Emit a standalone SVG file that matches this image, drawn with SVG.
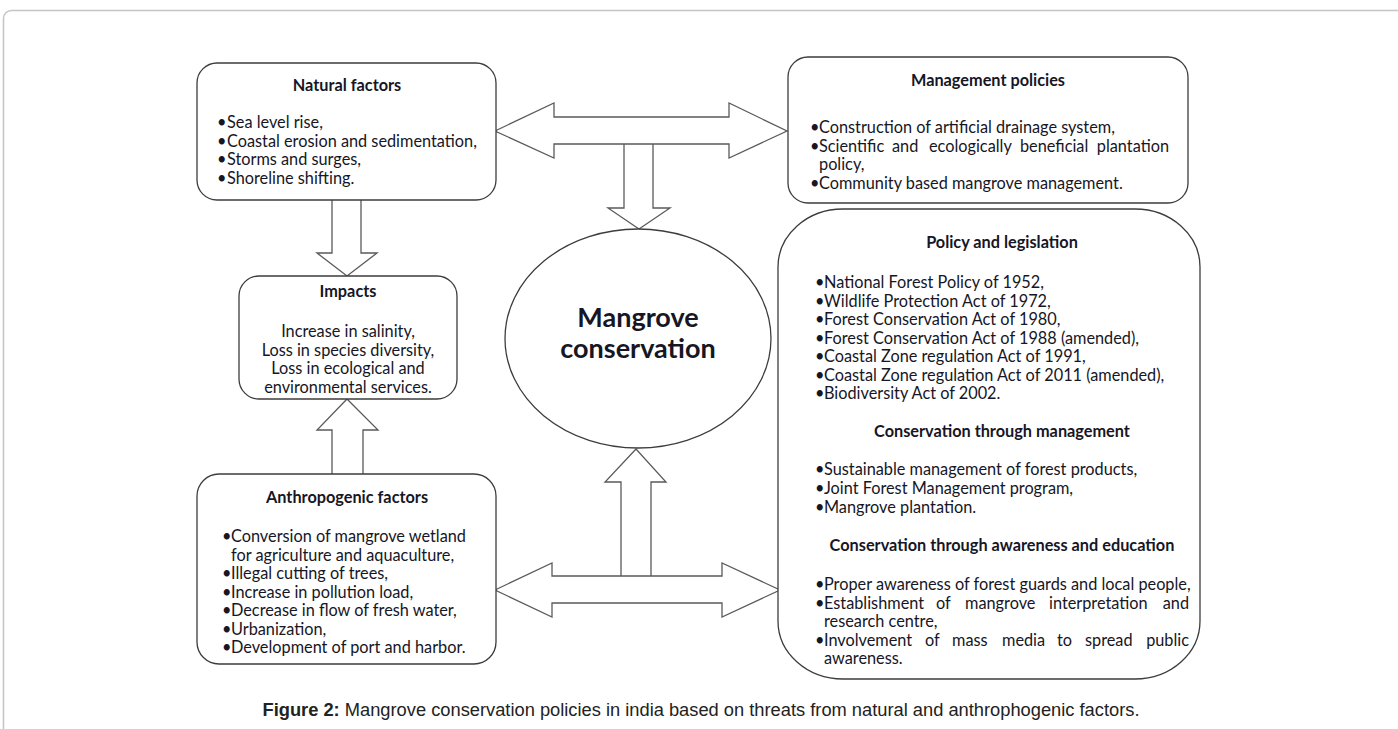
<svg xmlns="http://www.w3.org/2000/svg" width="1398" height="729" viewBox="0 0 1398 729">
<style>
.frame{fill:none;stroke:#c4c4c4;stroke-width:1.5}
.box{fill:#fff;stroke:#3c3c3c;stroke-width:1.3}
.arr{fill:#fff;stroke:#5a5a5a;stroke-width:1.3;stroke-linejoin:miter}
.t{font-family:Lato,"Open Sans","Liberation Sans",sans-serif;font-size:16.3px;fill:#161625}
.h{font-weight:bold;text-anchor:middle}
.c{text-anchor:middle}
.e{text-anchor:end}
.big{font-family:Lato,"Open Sans","Liberation Sans",sans-serif;font-size:27px;font-weight:bold;fill:#161625;text-anchor:middle}
.cap{font-family:"Liberation Sans",Arial,sans-serif;font-size:18.3px;fill:#222;text-anchor:middle}
</style>
<rect x="3.5" y="10.5" width="1500" height="800" rx="8" class="frame"/>
<g id="connectors">
  <path class="arr" d="M624,144 V208 H608 L639,229 L670,208 H653 V144"/>
  <polygon class="arr" points="495,131 554,103 554,117 729,117 729,103 787,131 729,158 729,144 554,144 554,158"/>
  <path class="arr" d="M621,576 V482 H605 L636,449 L666,482 H651 V576"/>
  <polygon class="arr" points="495,590 552,563 552,576 722,576 722,563 780,590 722,617 722,603 552,603 552,617"/>
  <path class="arr" d="M332,200 V253 H317 L347,276 L377,253 H361 V200"/>
  <path class="arr" d="M332,474 V430 H317 L347,399 L378,430 H363 V474"/>
</g>
<g id="natural">
  <rect class="box" x="197" y="63" width="299" height="137" rx="20"/>
  <text class="t h" x="347" y="91">Natural factors</text>
  <text class="t" x="217" y="128">•</text><text class="t" x="227" y="128">Sea level rise,</text>
  <text class="t" x="217" y="146.5">•</text><text class="t" x="227" y="146.5">Coastal erosion and sedimentation,</text>
  <text class="t" x="217" y="165">•</text><text class="t" x="227" y="165">Storms and surges,</text>
  <text class="t" x="217" y="183.5">•</text><text class="t" x="227" y="183.5">Shoreline shifting.</text>
</g>
<g id="management">
  <rect class="box" x="788" y="57" width="400" height="146" rx="20"/>
  <text class="t h" x="988" y="86">Management policies</text>
  <text class="t" x="810" y="133">•</text><text class="t" x="819" y="133">Construction of artificial drainage system,</text>
  <text class="t" x="810" y="152">•</text><text class="t" y="152"><tspan x="819">Scientific</tspan> <tspan x="892">and</tspan> <tspan x="929">ecologically</tspan> <tspan x="1020">beneficial</tspan></text><text class="t e" x="1169" y="152">plantation</text>
  <text class="t" x="819" y="170">policy,</text>
  <text class="t" x="810" y="188.5">•</text><text class="t" x="819" y="188.5">Community based mangrove management.</text>
</g>
<g id="impacts">
  <rect class="box" x="239" y="276" width="218" height="123" rx="20"/>
  <text class="t h" x="348" y="297">Impacts</text>
  <text class="t c" x="348" y="337">Increase in salinity,</text>
  <text class="t c" x="348" y="355.5">Loss in species diversity,</text>
  <text class="t c" x="348" y="374">Loss in ecological and</text>
  <text class="t c" x="348" y="392.5">environmental services.</text>
</g>
<g id="anthropogenic">
  <rect class="box" x="197" y="474" width="299" height="190" rx="22"/>
  <text class="t h" x="347" y="503">Anthropogenic factors</text>
  <text class="t" x="222" y="542">•</text><text class="t" x="231" y="542">Conversion of mangrove wetland</text>
  <text class="t" x="231" y="560.5">for agriculture and aquaculture,</text>
  <text class="t" x="222" y="579">•</text><text class="t" x="231" y="579">Illegal cutting of trees,</text>
  <text class="t" x="222" y="597.5">•</text><text class="t" x="231" y="597.5">Increase in pollution load,</text>
  <text class="t" x="222" y="616">•</text><text class="t" x="231" y="616">Decrease in flow of fresh water,</text>
  <text class="t" x="222" y="634.5">•</text><text class="t" x="231" y="634.5">Urbanization,</text>
  <text class="t" x="222" y="653">•</text><text class="t" x="231" y="653">Development of port and harbor.</text>
</g>
<g id="mangrove">
  <ellipse class="box" cx="638" cy="338.5" rx="133" ry="109.5"/>
  <text class="big" x="638" y="327">Mangrove</text>
  <text class="big" x="638" y="358">conservation</text>
</g>
<g id="policy">
  <rect class="box" x="778" y="209" width="422" height="470" rx="65" ry="58"/>
  <text class="t h" x="1002" y="248">Policy and legislation</text>
  <text class="t" x="815" y="288">•</text><text class="t" x="824" y="288">National Forest Policy of 1952,</text>
  <text class="t" x="815" y="306.5">•</text><text class="t" x="824" y="306.5">Wildlife Protection Act of 1972,</text>
  <text class="t" x="815" y="325">•</text><text class="t" x="824" y="325">Forest Conservation Act of 1980,</text>
  <text class="t" x="815" y="343.5">•</text><text class="t" x="824" y="343.5">Forest Conservation Act of 1988 (amended),</text>
  <text class="t" x="815" y="362">•</text><text class="t" x="824" y="362">Coastal Zone regulation Act of 1991,</text>
  <text class="t" x="815" y="380.5">•</text><text class="t" x="824" y="380.5">Coastal Zone regulation Act of 2011 (amended),</text>
  <text class="t" x="815" y="399">•</text><text class="t" x="824" y="399">Biodiversity Act of 2002.</text>
  <text class="t h" x="1002" y="437">Conservation through management</text>
  <text class="t" x="815" y="475">•</text><text class="t" x="824" y="475">Sustainable management of forest products,</text>
  <text class="t" x="815" y="494">•</text><text class="t" x="824" y="494">Joint Forest Management program,</text>
  <text class="t" x="815" y="513">•</text><text class="t" x="824" y="513">Mangrove plantation.</text>
  <text class="t h" x="1002" y="551">Conservation through awareness and education</text>
  <text class="t" x="815" y="590">•</text><text class="t" x="824" y="590">Proper awareness of forest guards and local people,</text>
  <text class="t" x="815" y="608.5">•</text><text class="t" y="608.5"><tspan x="824">Establishment</tspan> <tspan x="936">of</tspan> <tspan x="965">mangrove</tspan> <tspan x="1049">interpretation</tspan></text><text class="t e" x="1189" y="608.5">and</text>
  <text class="t" x="824" y="627">research centre,</text>
  <text class="t" x="815" y="645.5">•</text><text class="t" y="645.5"><tspan x="824">Involvement</tspan> <tspan x="925">of</tspan> <tspan x="952">mass</tspan> <tspan x="1002">media</tspan> <tspan x="1057">to</tspan> <tspan x="1085">spread</tspan></text><text class="t e" x="1189" y="645.5">public</text>
  <text class="t" x="824" y="664">awareness.</text>
</g>
<g id="caption">
  <text class="cap" x="701" y="716"><tspan font-weight="bold">Figure 2:</tspan> Mangrove conservation policies in india based on threats from natural and anthrophogenic factors.</text>
</g>
</svg>
